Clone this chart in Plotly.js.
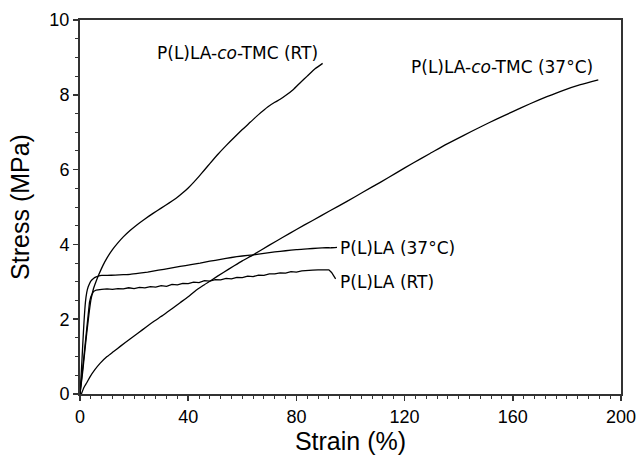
<!DOCTYPE html>
<html>
<head>
<meta charset="utf-8">
<script src="https://cdn.plot.ly/plotly-3.0.1.min.js"></script>
<style>html,body{margin:0;padding:0;background:#fff;}#chart{width:636px;height:456px;}</style>
</head>
<body>
<div id="chart"></div>
<script>
// P(L)LA-co-TMC at room temperature
var coTmcRT_x = [0, 1, 2, 3, 4, 5, 6, 7, 8.5, 10, 12, 14, 16, 18.5, 21, 24, 27, 30, 33, 36, 38, 40, 42, 44, 46, 48, 51, 54, 57, 60, 63, 66, 69.5, 72, 74, 76, 79, 81.5, 84, 87, 89.7];
var coTmcRT_y = [0, 0.6, 1.3, 1.95, 2.5, 2.82, 3.02, 3.2, 3.44, 3.64, 3.86, 4.04, 4.2, 4.37, 4.52, 4.68, 4.83, 4.97, 5.11, 5.26, 5.38, 5.51, 5.66, 5.82, 5.99, 6.16, 6.41, 6.64, 6.86, 7.07, 7.27, 7.47, 7.68, 7.8, 7.88, 7.98, 8.15, 8.33, 8.5, 8.7, 8.84];

// P(L)LA-co-TMC at 37 °C
var coTmc37_x = [0.5, 1.5, 2.5, 3.7, 5.5, 7.4, 10, 12.3, 15, 18.5, 21.5, 24.6, 27.5, 30.8, 34, 37, 40, 42.5, 45.5, 48.7, 53, 57, 60, 64, 70, 75, 80, 86, 92.4, 98.7, 104.7, 111, 117.1, 123, 129.4, 135, 141.7, 148, 154, 160, 166.4, 172.6, 178.7, 185, 191.6];
var coTmc37_y = [0, 0.18, 0.3, 0.46, 0.65, 0.82, 1.0, 1.13, 1.28, 1.47, 1.63, 1.8, 1.95, 2.11, 2.28, 2.44, 2.6, 2.75, 2.9, 3.05, 3.25, 3.43, 3.56, 3.72, 3.98, 4.19, 4.4, 4.64, 4.9, 5.15, 5.4, 5.66, 5.92, 6.17, 6.43, 6.66, 6.91, 7.14, 7.35, 7.55, 7.76, 7.95, 8.12, 8.27, 8.4];

// P(L)LA at 37 °C
var plla37_x = [0, 0.5, 1, 1.5, 2, 2.5, 3, 3.5, 4, 5, 6, 7, 8, 10, 13, 16, 18.5, 22, 25, 29, 33, 37, 41, 44.4, 48, 52, 56, 60, 64, 68, 72, 76, 80, 84, 88, 91, 93, 95];
var plla37_y = [0, 0.6, 1.3, 1.95, 2.45, 2.72, 2.86, 2.95, 3.02, 3.09, 3.13, 3.16, 3.17, 3.17, 3.18, 3.19, 3.2, 3.23, 3.26, 3.31, 3.36, 3.41, 3.46, 3.5, 3.55, 3.6, 3.65, 3.69, 3.72, 3.76, 3.8, 3.83, 3.86, 3.88, 3.9, 3.91, 3.91, 3.92];

// P(L)LA at room temperature
var pllaRT_x = [0, 1, 2, 3, 3.5, 4, 4.5, 5, 6, 7, 8, 10, 12, 14, 16, 18, 20, 22, 24, 26, 28, 30, 32, 34, 36, 38, 40, 42, 44, 46, 48, 50, 52, 54, 56, 58, 60, 62, 64, 66, 68, 70, 72, 74, 76, 78, 80, 82, 84, 86, 88, 90, 91, 92, 93, 94.5];
var pllaRT_y = [0, 0.7, 1.5, 2.2, 2.45, 2.6, 2.68, 2.74, 2.78, 2.8, 2.8, 2.81, 2.8, 2.82, 2.81, 2.84, 2.82, 2.85, 2.84, 2.87, 2.86, 2.9, 2.88, 2.93, 2.92, 2.96, 2.95, 2.99, 2.98, 3.03, 3.02, 3.06, 3.05, 3.09, 3.08, 3.12, 3.11, 3.15, 3.14, 3.18, 3.17, 3.21, 3.21, 3.24, 3.23, 3.27, 3.26, 3.29, 3.29, 3.31, 3.32, 3.33, 3.33, 3.32, 3.25, 3.08];

var xTickVals = [0, 40, 80, 120, 160, 200];
var yTickVals = [0, 2, 4, 6, 8, 10];

var labels = [
  {text: 'P(L)LA-<i>co</i>-TMC (RT)', x: 58.2, y: 9.12, anchor: 'center'},
  {text: 'P(L)LA-<i>co</i>-TMC (37°C)', x: 156, y: 8.75, anchor: 'center'},
  {text: 'P(L)LA (37°C)', x: 95.3, y: 3.9, anchor: 'left'},
  {text: 'P(L)LA (RT)', x: 95.3, y: 3.0, anchor: 'left'}
];

var smooth = {color: '#000', width: 1.3, shape: 'spline', smoothing: 0.5};
var plain = {color: '#000', width: 1.3};
var traces = [
  {x: coTmcRT_x, y: coTmcRT_y, mode: 'lines', line: smooth},
  {x: coTmc37_x, y: coTmc37_y, mode: 'lines', line: smooth},
  {x: plla37_x, y: plla37_y, mode: 'lines', line: smooth},
  {x: pllaRT_x, y: pllaRT_y, mode: 'lines', line: plain}
];

var tickFont = {family: '"Liberation Sans", Arial, sans-serif', size: 18, color: '#000'};
var titleFont = {family: '"Liberation Sans", Arial, sans-serif', size: 25, color: '#000'};

var axisCommon = {
  showgrid: false, zeroline: false,
  showline: true, linecolor: '#333', linewidth: 2, mirror: true,
  ticks: 'outside', ticklen: 5, tickwidth: 1.5, tickcolor: '#333',
  tickfont: tickFont, ticklabeloverflow: 'allow'
};

var layout = {
  width: 636, height: 456,
  margin: {l: 80, r: 15, t: 20, b: 62},
  paper_bgcolor: '#fff', plot_bgcolor: '#fff',
  showlegend: false,
  xaxis: Object.assign({}, axisCommon, {
    range: [0, 200], tickvals: xTickVals,
    minor: {dtick: 4, tick0: 0, ticks: 'outside', ticklen: 3, tickwidth: 1, tickcolor: '#333'},
    title: {text: 'Strain (%)', font: titleFont, standoff: 4}
  }),
  yaxis: Object.assign({}, axisCommon, {
    range: [0, 10], tickvals: yTickVals,
    minor: {dtick: 0.5, tick0: 0, ticks: 'outside', ticklen: 3, tickwidth: 1, tickcolor: '#333'},
    title: {text: 'Stress (MPa)', font: titleFont, standoff: 13}
  }),
  annotations: labels.map(function (l) {
    return {
      text: l.text, x: l.x, y: l.y, xref: 'x', yref: 'y',
      xanchor: l.anchor, yanchor: 'middle', showarrow: false,
      font: {family: '"DejaVu Sans", Verdana, sans-serif', size: 17, color: '#000'}
    };
  })
};

Plotly.newPlot('chart', traces, layout, {displayModeBar: false, staticPlot: true});
</script>
</body>
</html>
